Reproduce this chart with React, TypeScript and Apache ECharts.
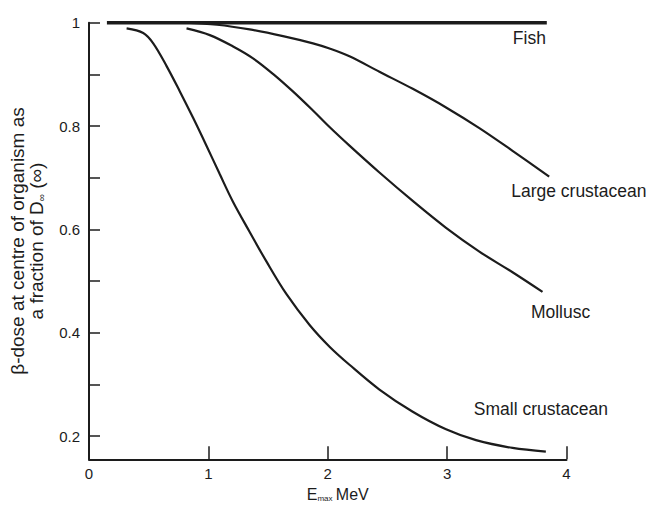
import React, { useEffect, useRef } from "react";
import * as echarts from "echarts";

const fishX = [0.15, 3.835];
const fishY = [1.0, 1.0];

const largeX = [0.8, 1.073, 1.346, 1.625, 1.876, 2.015, 2.182, 2.433, 2.712, 2.991, 3.27, 3.548, 3.855];
const largeY = [1.0, 0.996, 0.987, 0.974, 0.96, 0.95, 0.935, 0.905, 0.872, 0.836, 0.796, 0.752, 0.702];

const molluscX = [0.817, 1.012, 1.207, 1.374, 1.541, 1.708, 1.876, 2.015, 2.182, 2.433, 2.712, 2.991, 3.27, 3.548, 3.799];
const molluscY = [0.989, 0.976, 0.954, 0.931, 0.901, 0.867, 0.83, 0.798, 0.762, 0.71, 0.655, 0.603, 0.557, 0.517, 0.479];

const smallX = [0.315, 0.454, 0.538, 0.65, 0.761, 0.872, 0.984, 1.095, 1.207, 1.346, 1.486, 1.653, 1.848, 2.015, 2.182, 2.433, 2.712, 2.991, 3.242, 3.548, 3.827];
const smallY = [0.989, 0.98, 0.96, 0.916, 0.867, 0.816, 0.762, 0.707, 0.653, 0.595, 0.538, 0.475, 0.415, 0.373, 0.338, 0.29, 0.247, 0.213, 0.192, 0.177, 0.17];

const yTickValues = [0.2, 0.3, 0.4, 0.5, 0.6, 0.7, 0.8, 0.9, 1.0];
const yLabelValues = [0.2, 0.4, 0.6, 0.8, 1.0];
const xTickValues = [1, 2, 3, 4];
const xLabelValues = [0, 1, 2, 3, 4];

const seriesNames = ["Fish", "Large crustacean", "Mollusc", "Small crustacean"];

const FONT = "'Liberation Sans', Arial, Helvetica, sans-serif";
const INK = "#1c1c1c";

function zip(xs: number[], ys: number[]) {
  return xs.map((x, i) => [x, ys[i]]);
}

function endMark(xs: number[], ys: number[], name: string, offset: number[]) {
  const n = xs.length - 1;
  return {
    symbol: "circle",
    symbolSize: 1,
    itemStyle: { color: "rgba(0,0,0,0)" },
    silent: true,
    data: [
      {
        coord: [xs[n], ys[n]],
        label: {
          show: true,
          position: "inside",
          formatter: name,
          align: "left",
          verticalAlign: "middle",
          offset,
          color: INK,
          fontFamily: FONT,
          fontSize: 17.5,
        },
      },
    ],
  };
}

export default function App() {
  const ref = useRef<HTMLDivElement>(null);
  useEffect(() => {
    if (!ref.current) return;
    const chart = echarts.init(ref.current, null, { renderer: "svg" });
    const lineSeries = (name: string, xs: number[], ys: number[], width: number, offset: number[]) => ({
      name,
      type: "line",
      data: zip(xs, ys),
      showSymbol: false,
      symbol: "none",
      smooth: 0.35,
      lineStyle: { color: INK, width },
      markPoint: endMark(xs, ys, name, offset),
      z: 3,
    });
    chart.setOption({
      animation: false,
      backgroundColor: "#ffffff",
      textStyle: { fontFamily: FONT },
      grid: { left: 88.5, right: 84.5, top: 22.7, bottom: 48.7, containLabel: false },
      xAxis: {
        type: "value",
        min: 0,
        max: 4,
        interval: 1,
        name: "{e|E}{sub|max} {u|MeV}",
        nameLocation: "middle",
        nameGap: 26,
        nameTextStyle: {
          padding: [0, 0, 0, 20],
          rich: {
            e: { fontSize: 16, color: INK, fontFamily: FONT },
            sub: { fontSize: 8, color: INK, fontFamily: FONT, verticalAlign: "bottom", padding: [6, 0, 0, 0] },
            u: { fontSize: 16, color: INK, fontFamily: FONT },
          },
        },
        axisLine: { show: true, onZero: false, lineStyle: { color: INK, width: 2 } },
        axisTick: { show: true, inside: true, length: 13, customValues: xTickValues, lineStyle: { color: INK, width: 1.5 } },
        axisLabel: { fontSize: 15, color: INK, margin: 7, fontFamily: FONT, customValues: xLabelValues },
        splitLine: { show: false },
      },
      yAxis: {
        type: "value",
        min: 0.155,
        max: 1,
        name: "{n|β-dose at centre of organism as}\n{n|a fraction of D}{sub|∞}{n| (∞)}",
        nameLocation: "middle",
        nameRotate: 90,
        nameGap: 43,
        nameTextStyle: {
          fontSize: 19,
          color: INK,
          fontFamily: FONT,
          lineHeight: 19,
          rich: {
            n: { fontSize: 19, color: INK, fontFamily: FONT, lineHeight: 19 },
            sub: { fontSize: 10, color: INK, fontFamily: FONT, lineHeight: 19, verticalAlign: "bottom" },
          },
        },
        axisLine: { show: true, onZero: false, lineStyle: { color: INK, width: 2 } },
        axisTick: { show: true, inside: true, length: 11, customValues: yTickValues, lineStyle: { color: INK, width: 1.5 } },
        axisLabel: {
          fontSize: 15,
          color: INK,
          margin: 9,
          fontFamily: FONT,
          customValues: yLabelValues,
          formatter: (v: number) => (Math.abs(v - 1) < 1e-9 ? "1" : v.toFixed(1)),
        },
        splitLine: { show: false },
      },
      series: [
        lineSeries(seriesNames[0], fishX, fishY, 3.5, [-34, 15.6]),
        lineSeries(seriesNames[1], largeX, largeY, 2.2, [-38, 14.5]),
        lineSeries(seriesNames[2], molluscX, molluscY, 2.2, [-11.6, 20]),
        lineSeries(seriesNames[3], smallX, smallY, 2.2, [-72, -43]),
      ],
    });
    return () => chart.dispose();
  }, []);
  return <div ref={ref} style={{ width: 651, height: 508, position: "absolute", left: 0, top: 0 }} />;
}
